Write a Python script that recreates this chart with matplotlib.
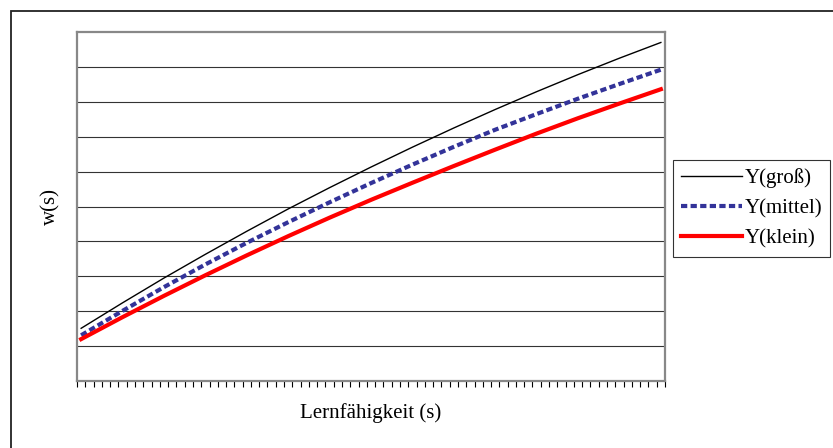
import numpy as np
import matplotlib.pyplot as plt
from matplotlib.patches import Rectangle

# Lernfähigkeit categories (71 steps), curves sampled every 5th step
n_cat = 71
cat_idx = [0, 5, 10, 15, 20, 25, 30, 35, 40, 45, 50, 55, 60, 65, 70]
y_gross = [1.51, 2.24, 2.95, 3.63, 4.29, 4.93, 5.54, 6.13, 6.70, 7.25, 7.78, 8.29, 8.78, 9.25, 9.70]
y_mittel = [1.31, 2.01, 2.69, 3.34, 3.96, 4.55, 5.12, 5.67, 6.20, 6.71, 7.20, 7.65, 8.09, 8.51, 8.92]
y_klein = [1.20, 1.83, 2.44, 3.03, 3.60, 4.15, 4.68, 5.19, 5.68, 6.16, 6.63, 7.09, 7.53, 7.95, 8.36]
labels = ['Y(groß)', 'Y(mittel)', 'Y(klein)']

plt.rcParams['font.family'] = ['Liberation Serif', 'DejaVu Serif']

W, H = 833, 448
fig = plt.figure(figsize=(W / 100, H / 100), dpi=100)

# outer chart frame
fig.patches.append(Rectangle((11 / W, -0.1), 1.2, 1 - 11 / H + 0.1, transform=fig.transFigure,
                             fill=False, edgecolor='#222222', linewidth=1.3))

ax = fig.add_axes([77 / W, 1 - 381 / H, 588 / W, 349 / H])

ax.plot(cat_idx, y_gross, color='black', linewidth=1.0, label=labels[0])
ax.plot(cat_idx, y_mittel, color='#333399', linewidth=3.0, dashes=(1.5, 0.8), label=labels[1])
ax.plot(cat_idx, y_klein, color='#ff0000', linewidth=3.0, label=labels[2])

ax.set_xlim(-0.5, n_cat - 0.5)
ax.set_ylim(0, 10)

# horizontal gridlines
for g in range(1, 10):
    ax.axhline(g, color='#333333', linewidth=0.8, zorder=0)

ax.set_yticks([])
ax.set_xticks(np.arange(-0.5, n_cat, 1))
ax.set_xticklabels([])
ax.tick_params(axis='x', direction='out', length=4.5, width=0.8, color='black')

for spine in ax.spines.values():
    spine.set_edgecolor('#888888')
    spine.set_linewidth(1.6)

ax.set_ylabel('w(s)', fontsize=15, labelpad=12)
ax.set_xlabel('Lernfähigkeit (s)', fontsize=15, labelpad=8)

leg = fig.legend(loc='upper left', bbox_to_anchor=(673 / W, 1 - 160 / H), fontsize=15,
                 frameon=True, fancybox=False, borderaxespad=0, handlelength=2.9,
                 handletextpad=0.12, borderpad=0.4, labelspacing=0.5)
leg.get_frame().set_edgecolor('black')
leg.get_frame().set_linewidth(0.8)

fig.savefig('out.png', dpi=100)
